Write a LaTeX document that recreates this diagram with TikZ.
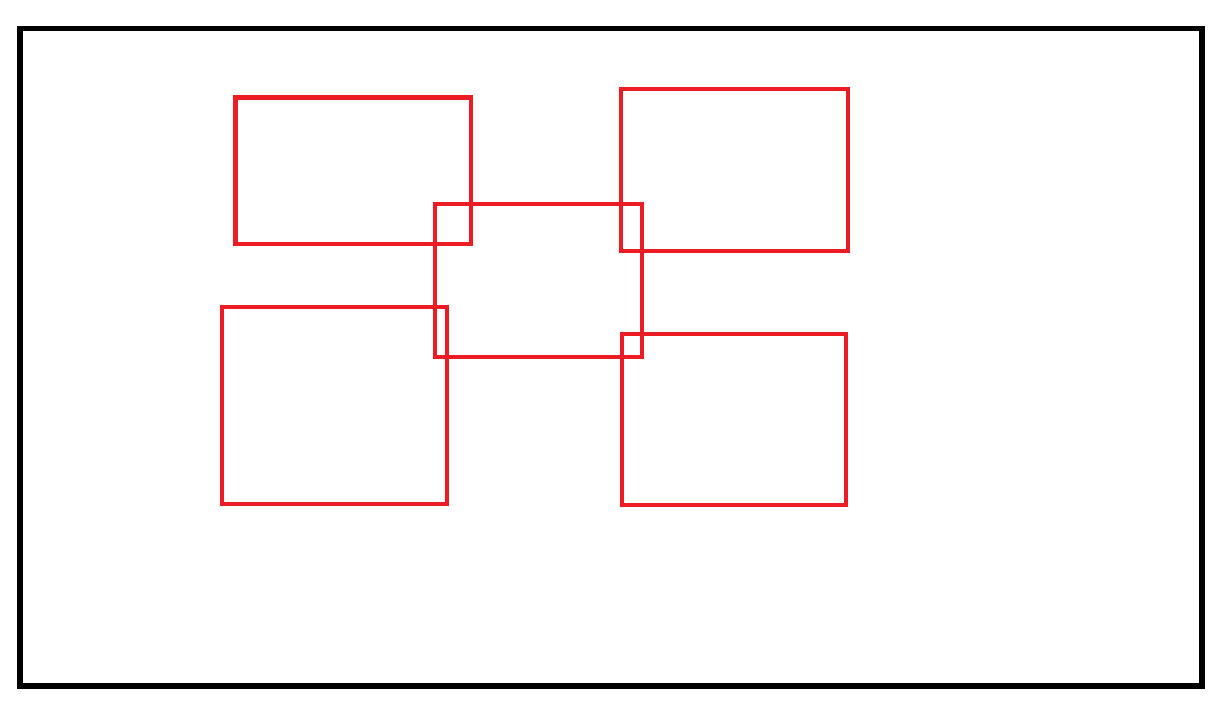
\documentclass[tikz,border=0pt]{standalone}
\usetikzlibrary{positioning}
\definecolor{paintred}{HTML}{ED1C24}
\begin{document}
\begin{tikzpicture}[x=0.01cm, y=-0.01cm,
  frame/.style={draw=black, line width=1.45pt},
  redbox/.style={draw=paintred, line width=1.3pt}]
\useasboundingbox (0,0) rectangle (1226,710);
\draw [frame] (20,28.5) rectangle (1202,686);
\draw [redbox] (235.5,97.5) rectangle (471,244);
\draw [redbox] (621,89) rectangle (848,251);
\draw [redbox] (435,204) rectangle (642,357);
\draw [redbox] (222,307) rectangle (447,504);
\draw [redbox] (622,334) rectangle (846,505);
\end{tikzpicture}
\end{document}
